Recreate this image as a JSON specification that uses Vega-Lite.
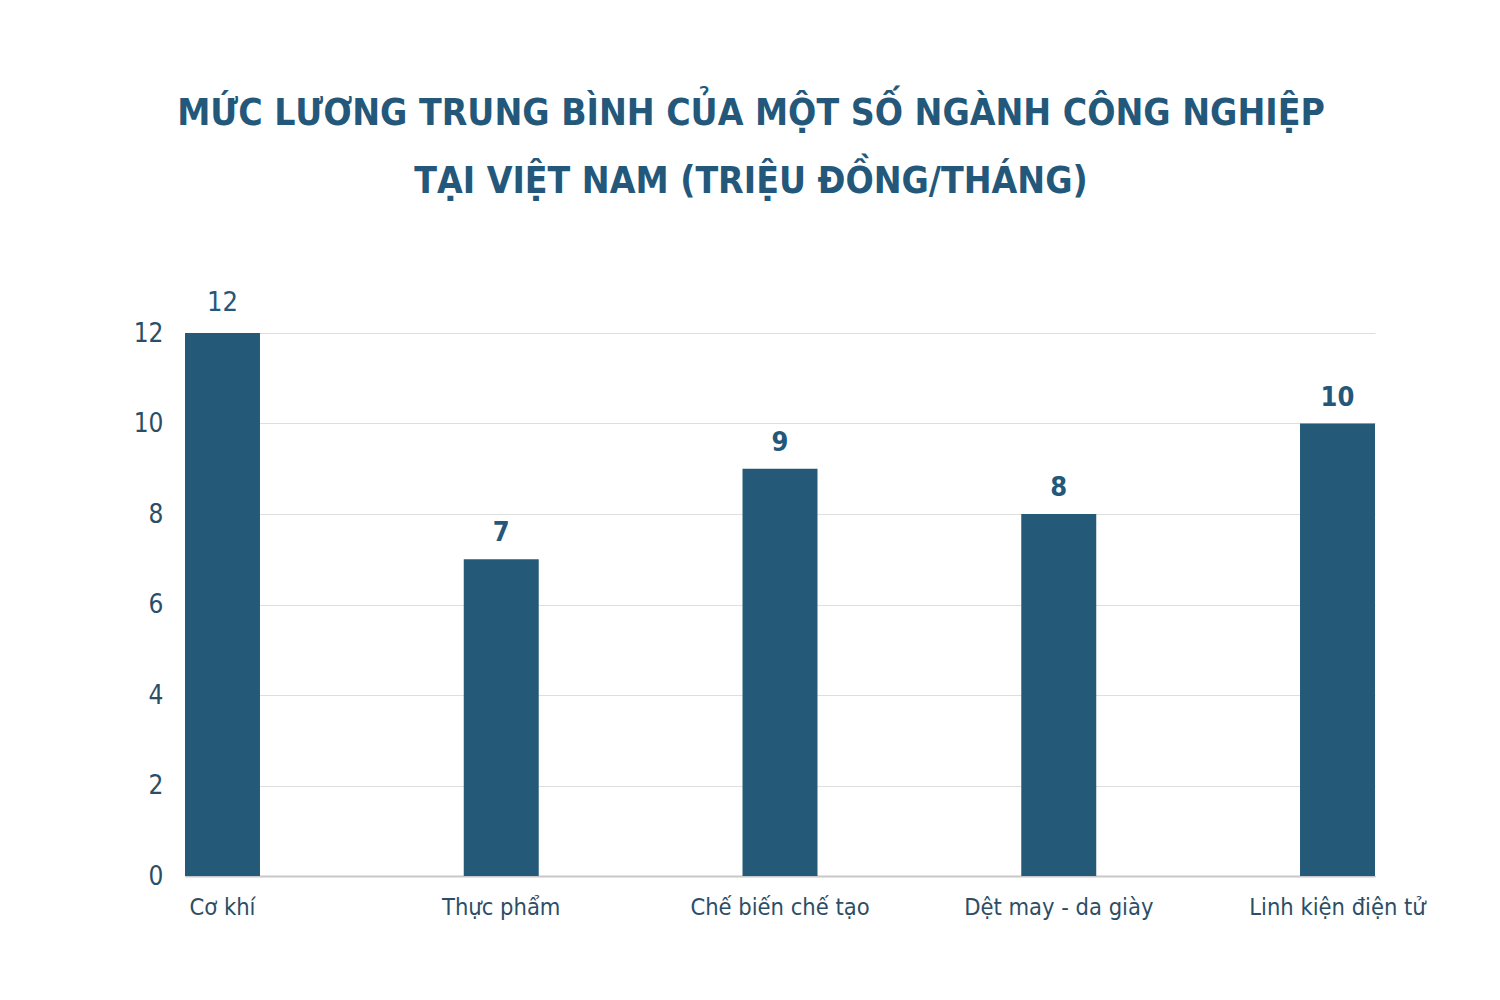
{
  "$schema": "https://vega.github.io/schema/vega-lite/v6.json",
  "autosize": {"type": "none"},
  "width": 1190,
  "height": 543,
  "padding": {"left": 185, "top": 333, "right": 125, "bottom": 124},
  "background": "white",
  "config": {"view": {"stroke": null}},
  "title": {
    "text": ["MỨC LƯƠNG TRUNG BÌNH CỦA MỘT SỐ NGÀNH CÔNG NGHIỆP", "TẠI VIỆT NAM (TRIỆU ĐỒNG/THÁNG)"],
    "font": "DejaVu Sans Condensed",
    "fontSize": 37,
    "fontWeight": "bold",
    "color": "#24587a",
    "lineHeight": 68,
    "anchor": "middle",
    "frame": "group",
    "dx": -29,
    "offset": 88
  },
  "data": {
    "values": [
      {"nganh": "Cơ khí", "luong": 12},
      {"nganh": "Thực phẩm", "luong": 7},
      {"nganh": "Chế biến chế tạo", "luong": 9},
      {"nganh": "Dệt may - da giày", "luong": 8},
      {"nganh": "Linh kiện điện tử", "luong": 10}
    ]
  },
  "encoding": {
    "x": {
      "field": "nganh",
      "type": "nominal",
      "sort": null,
      "scale": {"paddingInner": 0.731, "paddingOuter": 0},
      "axis": {
        "title": null,
        "labelAngle": 0,
        "labelFont": "DejaVu Sans Condensed",
        "labelFontSize": 23.5,
        "labelLimit": 0,
        "labelColor": "#2b4e66",
        "labelPadding": 19,
        "ticks": false,
        "domainColor": "#c8c8c8",
        "domainWidth": 2,
        "grid": false
      }
    },
    "y": {
      "field": "luong",
      "type": "quantitative",
      "scale": {"domain": [0, 12], "nice": false},
      "axis": {
        "title": null,
        "values": [0, 2, 4, 6, 8, 10, 12],
        "labelFont": "DejaVu Sans Condensed",
        "labelFontSize": 26,
        "labelColor": "#2b4e66",
        "labelPadding": 22,
        "ticks": false,
        "domain": false,
        "gridColor": "#dedede",
        "gridWidth": 1.2
      }
    }
  },
  "layer": [
    {"mark": {"type": "bar", "color": "#245a78"}},
    {
      "transform": [{"filter": "datum.luong == 12"}],
      "mark": {"type": "text", "baseline": "bottom", "dy": -16, "font": "DejaVu Sans Condensed", "fontSize": 27, "color": "#24587a"},
      "encoding": {"text": {"field": "luong", "type": "quantitative"}}
    },
    {
      "transform": [{"filter": "datum.luong != 12"}],
      "mark": {"type": "text", "baseline": "bottom", "dy": -12, "font": "DejaVu Sans Condensed", "fontSize": 27, "fontWeight": "bold", "color": "#24587a"},
      "encoding": {"text": {"field": "luong", "type": "quantitative"}}
    }
  ]
}
